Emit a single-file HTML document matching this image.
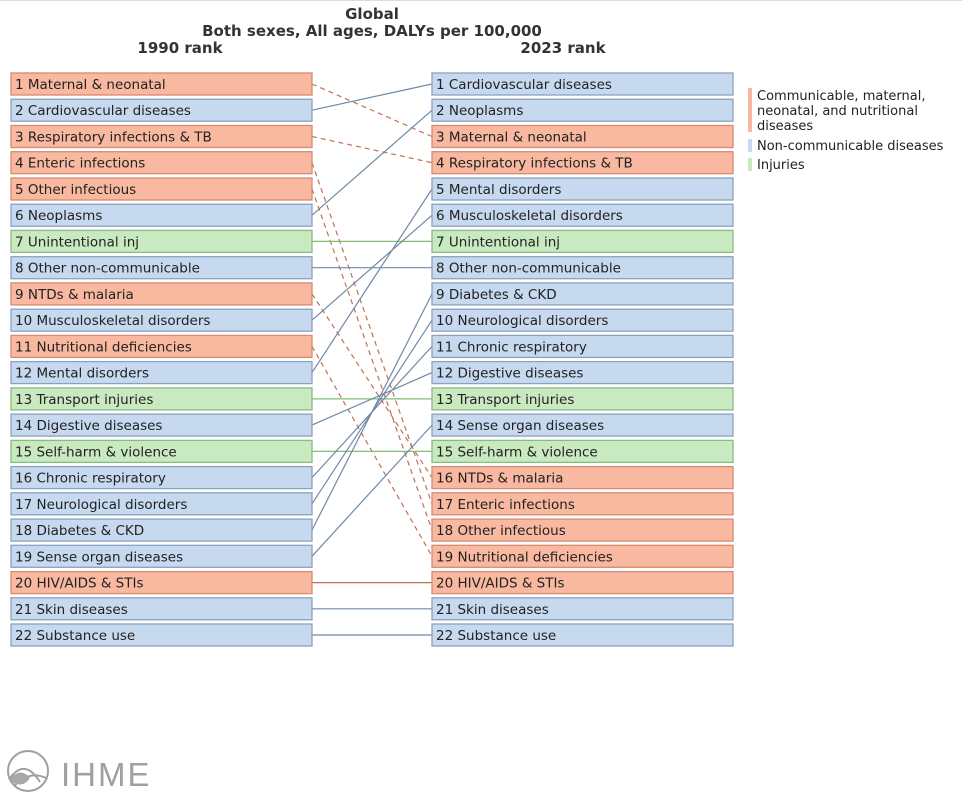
<!DOCTYPE html>
<html><head><meta charset="utf-8"><style>
html,body{margin:0;padding:0;background:#fff;}
svg{display:block;font-family:"DejaVu Sans","Liberation Sans",sans-serif;}
.t{font-size:13.5px;fill:#222;}
.h{font-size:15px;font-weight:bold;fill:#333;}
.c{fill:#f9b9a0;stroke:#d98a70;stroke-width:1.3}
.n{fill:#c6d9ef;stroke:#8aa2bf;stroke-width:1.3}
.i{fill:#c9e9c0;stroke:#86bd80;stroke-width:1.3}
.lb{stroke:#7188a6;stroke-width:1.2;fill:none}
.lr{stroke:#c27052;stroke-width:1.2;fill:none}
.ld{stroke:#c27052;stroke-width:1.2;fill:none;stroke-dasharray:5,4}
.lg{stroke:#7cc074;stroke-width:1.2;fill:none}
</style></head><body>
<svg width="962" height="799" viewBox="0 0 962 799">
<line x1="0" y1="0.5" x2="962" y2="0.5" stroke="#ddd"/>
<text class="h" x="372" y="19" text-anchor="middle">Global</text>
<text class="h" x="372" y="36" text-anchor="middle">Both sexes, All ages, DALYs per 100,000</text>
<text class="h" x="180" y="53" text-anchor="middle">1990 rank</text>
<text class="h" x="563" y="53" text-anchor="middle">2023 rank</text>

<line class="ld" x1="312" y1="84" x2="432" y2="136.5"/>
<line class="lb" x1="312" y1="110.2" x2="432" y2="84"/>
<line class="ld" x1="312" y1="136.5" x2="432" y2="162.7"/>
<line class="ld" x1="312" y1="162.7" x2="432" y2="503.8"/>
<line class="ld" x1="312" y1="189" x2="432" y2="530.1"/>
<line class="lb" x1="312" y1="215.2" x2="432" y2="110.2"/>
<line class="lg" x1="312" y1="241.4" x2="432" y2="241.4"/>
<line class="lb" x1="312" y1="267.7" x2="432" y2="267.7"/>
<line class="ld" x1="312" y1="293.9" x2="432" y2="477.6"/>
<line class="lb" x1="312" y1="320.2" x2="432" y2="215.2"/>
<line class="ld" x1="312" y1="346.4" x2="432" y2="556.3"/>
<line class="lb" x1="312" y1="372.6" x2="432" y2="189"/>
<line class="lg" x1="312" y1="398.9" x2="432" y2="398.9"/>
<line class="lb" x1="312" y1="425.1" x2="432" y2="372.6"/>
<line class="lg" x1="312" y1="451.4" x2="432" y2="451.4"/>
<line class="lb" x1="312" y1="477.6" x2="432" y2="346.4"/>
<line class="lb" x1="312" y1="503.8" x2="432" y2="320.2"/>
<line class="lb" x1="312" y1="530.1" x2="432" y2="293.9"/>
<line class="lb" x1="312" y1="556.3" x2="432" y2="425.1"/>
<line class="lr" x1="312" y1="582.6" x2="432" y2="582.6"/>
<line class="lb" x1="312" y1="608.8" x2="432" y2="608.8"/>
<line class="lb" x1="312" y1="635" x2="432" y2="635"/>

<g>
<rect class="c" x="11" y="73" width="301" height="22"/><text class="t" x="15" y="89">1 Maternal &amp; neonatal</text>
<rect class="n" x="11" y="99.2" width="301" height="22"/><text class="t" x="15" y="115.2">2 Cardiovascular diseases</text>
<rect class="c" x="11" y="125.5" width="301" height="22"/><text class="t" x="15" y="141.5">3 Respiratory infections &amp; TB</text>
<rect class="c" x="11" y="151.7" width="301" height="22"/><text class="t" x="15" y="167.7">4 Enteric infections</text>
<rect class="c" x="11" y="178" width="301" height="22"/><text class="t" x="15" y="194">5 Other infectious</text>
<rect class="n" x="11" y="204.2" width="301" height="22"/><text class="t" x="15" y="220.2">6 Neoplasms</text>
<rect class="i" x="11" y="230.4" width="301" height="22"/><text class="t" x="15" y="246.4">7 Unintentional inj</text>
<rect class="n" x="11" y="256.7" width="301" height="22"/><text class="t" x="15" y="272.7">8 Other non-communicable</text>
<rect class="c" x="11" y="282.9" width="301" height="22"/><text class="t" x="15" y="298.9">9 NTDs &amp; malaria</text>
<rect class="n" x="11" y="309.2" width="301" height="22"/><text class="t" x="15" y="325.2">10 Musculoskeletal disorders</text>
<rect class="c" x="11" y="335.4" width="301" height="22"/><text class="t" x="15" y="351.4">11 Nutritional deficiencies</text>
<rect class="n" x="11" y="361.6" width="301" height="22"/><text class="t" x="15" y="377.6">12 Mental disorders</text>
<rect class="i" x="11" y="387.9" width="301" height="22"/><text class="t" x="15" y="403.9">13 Transport injuries</text>
<rect class="n" x="11" y="414.1" width="301" height="22"/><text class="t" x="15" y="430.1">14 Digestive diseases</text>
<rect class="i" x="11" y="440.4" width="301" height="22"/><text class="t" x="15" y="456.4">15 Self-harm &amp; violence</text>
<rect class="n" x="11" y="466.6" width="301" height="22"/><text class="t" x="15" y="482.6">16 Chronic respiratory</text>
<rect class="n" x="11" y="492.8" width="301" height="22"/><text class="t" x="15" y="508.8">17 Neurological disorders</text>
<rect class="n" x="11" y="519.1" width="301" height="22"/><text class="t" x="15" y="535.1">18 Diabetes &amp; CKD</text>
<rect class="n" x="11" y="545.3" width="301" height="22"/><text class="t" x="15" y="561.3">19 Sense organ diseases</text>
<rect class="c" x="11" y="571.6" width="301" height="22"/><text class="t" x="15" y="587.6">20 HIV/AIDS &amp; STIs</text>
<rect class="n" x="11" y="597.8" width="301" height="22"/><text class="t" x="15" y="613.8">21 Skin diseases</text>
<rect class="n" x="11" y="624" width="301" height="22"/><text class="t" x="15" y="640">22 Substance use</text>
</g>

<g>
<rect class="n" x="432" y="73" width="301" height="22"/><text class="t" x="436" y="89">1 Cardiovascular diseases</text>
<rect class="n" x="432" y="99.2" width="301" height="22"/><text class="t" x="436" y="115.2">2 Neoplasms</text>
<rect class="c" x="432" y="125.5" width="301" height="22"/><text class="t" x="436" y="141.5">3 Maternal &amp; neonatal</text>
<rect class="c" x="432" y="151.7" width="301" height="22"/><text class="t" x="436" y="167.7">4 Respiratory infections &amp; TB</text>
<rect class="n" x="432" y="178" width="301" height="22"/><text class="t" x="436" y="194">5 Mental disorders</text>
<rect class="n" x="432" y="204.2" width="301" height="22"/><text class="t" x="436" y="220.2">6 Musculoskeletal disorders</text>
<rect class="i" x="432" y="230.4" width="301" height="22"/><text class="t" x="436" y="246.4">7 Unintentional inj</text>
<rect class="n" x="432" y="256.7" width="301" height="22"/><text class="t" x="436" y="272.7">8 Other non-communicable</text>
<rect class="n" x="432" y="282.9" width="301" height="22"/><text class="t" x="436" y="298.9">9 Diabetes &amp; CKD</text>
<rect class="n" x="432" y="309.2" width="301" height="22"/><text class="t" x="436" y="325.2">10 Neurological disorders</text>
<rect class="n" x="432" y="335.4" width="301" height="22"/><text class="t" x="436" y="351.4">11 Chronic respiratory</text>
<rect class="n" x="432" y="361.6" width="301" height="22"/><text class="t" x="436" y="377.6">12 Digestive diseases</text>
<rect class="i" x="432" y="387.9" width="301" height="22"/><text class="t" x="436" y="403.9">13 Transport injuries</text>
<rect class="n" x="432" y="414.1" width="301" height="22"/><text class="t" x="436" y="430.1">14 Sense organ diseases</text>
<rect class="i" x="432" y="440.4" width="301" height="22"/><text class="t" x="436" y="456.4">15 Self-harm &amp; violence</text>
<rect class="c" x="432" y="466.6" width="301" height="22"/><text class="t" x="436" y="482.6">16 NTDs &amp; malaria</text>
<rect class="c" x="432" y="492.8" width="301" height="22"/><text class="t" x="436" y="508.8">17 Enteric infections</text>
<rect class="c" x="432" y="519.1" width="301" height="22"/><text class="t" x="436" y="535.1">18 Other infectious</text>
<rect class="c" x="432" y="545.3" width="301" height="22"/><text class="t" x="436" y="561.3">19 Nutritional deficiencies</text>
<rect class="c" x="432" y="571.6" width="301" height="22"/><text class="t" x="436" y="587.6">20 HIV/AIDS &amp; STIs</text>
<rect class="n" x="432" y="597.8" width="301" height="22"/><text class="t" x="436" y="613.8">21 Skin diseases</text>
<rect class="n" x="432" y="624" width="301" height="22"/><text class="t" x="436" y="640">22 Substance use</text>
</g>

<rect x="748" y="88" width="4" height="44" fill="#f9b9a0"/>
<text class="t" x="757" y="100" style="font-size:13px">Communicable, maternal,</text>
<text class="t" x="757" y="115" style="font-size:13px">neonatal, and nutritional</text>
<text class="t" x="757" y="130" style="font-size:13px">diseases</text>
<rect x="748" y="139" width="4" height="13" fill="#c6d9ef"/>
<text class="t" x="757" y="150" style="font-size:13px">Non-communicable diseases</text>
<rect x="748" y="158" width="4" height="13" fill="#c9e9c0"/>
<text class="t" x="757" y="169" style="font-size:13px">Injuries</text>

<g stroke="#a0a0a0" fill="none" stroke-width="2">
<circle cx="28" cy="771" r="20"/>
<path d="M10 778 Q25 758 40 782" />
<path d="M14 786 Q30 770 46 778" />
</g>
<path d="M9 780 Q20 766 30 778 Q22 790 9 780Z" fill="#a8a8a8"/>
<text x="61" y="786" style="font-size:33px;letter-spacing:2px;fill:#a0a0a0;font-family:'Liberation Sans',sans-serif">IHME</text>
</svg>
</body></html>
